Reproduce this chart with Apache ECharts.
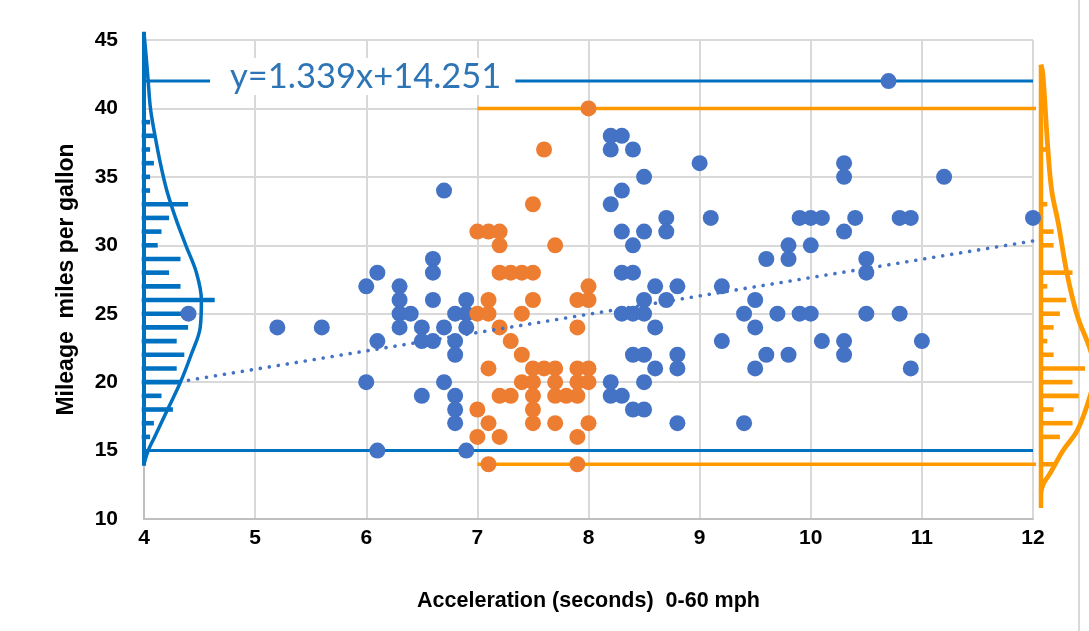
<!DOCTYPE html>
<html><head><meta charset="utf-8">
<script src="https://cdn.jsdelivr.net/npm/echarts@6/dist/echarts.min.js"></script>
<style>html,body{margin:0;padding:0;background:#fff}#c{width:1089px;height:631px}</style>
</head><body><div id="c"></div>
<script>
// ---- data ----
const bluePoints = [
 [4.4,25],[5.2,24],[5.6,24],[6.0,20],[6.0,27],[6.1,28],[6.1,23],[6.1,15],
 [6.3,27],[6.3,26],[6.3,25],[6.3,24],[6.4,25],[6.5,24],[6.5,23],[6.5,19],
 [6.6,29],[6.6,28],[6.6,26],[6.6,23],[6.7,34],[6.7,24],[6.7,20],
 [6.8,25],[6.8,23],[6.8,22],[6.8,19],[6.8,18],[6.8,17],
 [6.9,26],[6.9,25],[6.9,24],[6.9,15],
 [8.2,38],[8.3,38],[8.2,37],[8.4,37],[8.5,35],[8.3,34],[8.2,33],[8.7,32],[8.7,31],
 [8.3,31],[8.5,31],[8.4,30],[8.3,28],[8.4,28],[8.6,27],[8.8,27],[8.5,26],[8.7,26],
 [8.3,25],[8.4,25],[8.5,25],[8.6,24],[8.4,22],[8.5,22],[8.8,22],[8.6,21],[8.8,21],
 [8.2,20],[8.5,20],[8.2,19],[8.3,19],[8.4,18],[8.5,18],[8.8,17],
 [9.0,36],[9.1,32],[9.2,27],[9.2,23],[9.4,25],[9.4,17],[9.5,26],[9.5,24],[9.5,21],
 [9.6,29],[9.6,22],[9.7,25],[9.8,30],[9.8,29],[9.8,22],[9.9,32],[9.9,25],
 [10.0,32],[10.0,30],[10.0,25],[10.1,32],[10.1,23],[10.3,36],[10.3,35],[10.3,31],
 [10.3,23],[10.3,22],[10.4,32],[10.5,29],[10.5,28],[10.5,25],[10.7,42],[10.8,32],
 [10.8,25],[10.9,32],[10.9,21],[11.0,23],[11.2,35],[12.0,32]
];
const orangePoints = [
 [7.0,31],[7.1,31],[7.2,31],[7.2,30],[7.7,30],[7.2,28],[7.3,28],[7.4,28],[7.5,28],
 [7.5,33],[7.6,37],[8.0,40],[8.0,27],[7.1,26],[7.5,26],[7.9,26],[8.0,26],
 [7.0,25],[7.1,25],[7.4,25],[7.2,24],[7.9,24],[7.3,23],[7.4,22],
 [7.1,21],[7.5,21],[7.6,21],[7.7,21],[7.9,21],[8.0,21],
 [7.4,20],[7.5,20],[7.7,20],[7.9,20],[8.0,20],
 [7.2,19],[7.3,19],[7.5,19],[7.7,19],[7.8,19],[7.9,19],
 [7.0,18],[7.5,18],[7.1,17],[7.5,17],[7.7,17],[8.0,17],
 [7.0,16],[7.2,16],[7.9,16],[7.1,14],[7.9,14]
];
// trendline y=1.339x+14.251 end points (as read)
const trendPoints = [[4.4,20.14],[12.0,30.32]];
const equationText = 'y=1.339x+14.251';
// left (blue) histogram: mpg bin -> count
const blueHistY = [39,38,37,36,35,34,33,32,31,30,29,28,27,26,25,24,23,22,21,20,19,18,17,16];
const blueHistN = [ 1, 2, 1, 2, 1, 1,11, 6, 4, 3, 9, 6, 9,18,11,11, 8,10, 8, 9, 4, 7, 2, 1];
// right (orange) histogram
const orangeHistY = [37,33,31,30,28,27,26,25,24,23,22,21,20,19,18,17,16,14];
const orangeHistN = [ 1, 1, 2, 2, 5, 1, 4, 3, 2, 1, 2, 7, 5, 6, 2, 5, 3, 2];
// bell curves (count, mpg)
const blueCurveY = [45.5,44,42,40,38,36,34,32,30,28,26,24,22,20,18,16,15,14];
const blueCurveN = [0,0.5,1.1,1.7,2.9,4.3,6.0,8.3,11.0,13.8,15.1,14.8,12.4,9.6,6.2,2.8,1.1,0];
const orangeCurveY = [43.2,42.5,37,34,31.6,28,24.8,22.4,20.7,19,16.5,15,13.3,12.6,12.0];
const orangeCurveN = [0,0.3,1.1,1.7,2.75,4.1,5.8,7.8,8.6,7.8,5.8,3.5,1.4,0.4,0];
// histogram baselines extent (mpg)
const blueBase = [13.9,45.6];
const orangeBase = [10.8,43.2];
const xTicks = {min:4,max:12,step:1};
const yTicks = {min:10,max:45,step:5};

// ---- styles ----
const BLUE_DOT='#4472C4', ORANGE_DOT='#ED7D31', BLUE_LINE='#0070C0', ORANGE_LINE='#FF9900';
const FONT='"Liberation Sans", Arial, sans-serif';

const zip=(a,b)=>a.map((v,i)=>[b[i],v]);
const blueYs=bluePoints.map(p=>p[1]), orangeYs=orangePoints.map(p=>p[1]);
const orangeXs=orangePoints.map(p=>p[0]);
const blueMax=Math.max(...blueYs), blueMin=Math.min(...blueYs);
const orangeMax=Math.max(...orangeYs), orangeMin=Math.min(...orangeYs);
const orangeXmin=Math.min(...orangeXs);

function histSeries(xi, yi, ys, ns, color, cap){
  return {type:'custom', xAxisIndex:xi, yAxisIndex:yi, z:2, silent:true, clip:false,
    data: zip(ys, ns),
    renderItem:(params, api)=>{
      const a=api.coord([0, api.value(1)]), b=api.coord([api.value(0), api.value(1)]);
      return {type:'line', shape:{x1:a[0],y1:a[1],x2:b[0],y2:b[1]},
        style:{stroke:color, lineWidth:4.6, lineCap:cap}};
    }};
}
const hidAx = (g,min,max)=>({type:'value', gridIndex:g, min, max, show:false});

const chart=echarts.init(document.getElementById('c'),null,{renderer:'canvas'});
chart.setOption({
  animation:false,
  backgroundColor:'#fff',
  grid:[
    {left:144, top:40, right:56, bottom:112},
    {left:144, top:40, width:380, bottom:112},
    {left:1041, top:40, right:0, bottom:112}
  ],
  xAxis:[
    {type:'value', gridIndex:0, min:xTicks.min, max:xTicks.max, interval:xTicks.step,
     name:'Acceleration (seconds)  0-60 mph', nameLocation:'middle', nameGap:71,
     nameTextStyle:{fontFamily:FONT, fontWeight:'bold', fontSize:21.5, color:'#000'},
     axisLine:{show:true, lineStyle:{color:'#bfbfbf', width:2}}, axisTick:{show:false},
     axisLabel:{fontFamily:FONT, fontWeight:'bold', fontSize:21, color:'#000', margin:9},
     splitLine:{show:true, lineStyle:{color:'#d9d9d9', width:2}}},
    hidAx(1,0,100), hidAx(2,0,7.62)
  ],
  yAxis:[
    {type:'value', gridIndex:0, min:yTicks.min, max:yTicks.max, interval:yTicks.step,
     name:'Mileage  miles per gallon', nameLocation:'middle', nameGap:66,
     nameTextStyle:{fontFamily:FONT, fontWeight:'bold', fontSize:23, color:'#000'},
     axisLine:{show:true, lineStyle:{color:'#bfbfbf', width:2}}, axisTick:{show:false},
     axisLabel:{fontFamily:FONT, fontWeight:'bold', fontSize:21, color:'#000', margin:26},
     splitLine:{show:true, lineStyle:{color:'#d9d9d9', width:2}}},
    hidAx(1,yTicks.min,yTicks.max), hidAx(2,yTicks.min,yTicks.max)
  ],
  graphic:[
    {type:'line', shape:{x1:1079,y1:0,x2:1079,y2:631}, style:{stroke:'#d9d9d9', lineWidth:2}, z:0},
    {type:'text', left:210, top:58, z:20,
     style:{text:equationText, font:'34.5px Lato', fill:'#2E75B6',
            backgroundColor:'#fff', padding:[1,14,1,20]}}
  ],
  series:[
    histSeries(1,1,blueHistY,blueHistN,BLUE_LINE,'square'),
    histSeries(2,2,orangeHistY,orangeHistN,ORANGE_LINE,'butt'),
    {type:'line', xAxisIndex:1, yAxisIndex:1, z:3, clip:false, symbol:'none', silent:true,
     data:[[0,blueBase[0]],[0,blueBase[1]]], lineStyle:{color:BLUE_LINE, width:4}},
    {type:'line', xAxisIndex:2, yAxisIndex:2, z:3, clip:false, symbol:'none', silent:true,
     data:[[0,orangeBase[0]],[0,orangeBase[1]]], lineStyle:{color:ORANGE_LINE, width:4.5}},
    {type:'line', xAxisIndex:1, yAxisIndex:1, z:4, clip:false, symbol:'none', smooth:0.35, silent:true,
     data:zip(blueCurveY,blueCurveN), lineStyle:{color:BLUE_LINE, width:3.5}},
    {type:'line', xAxisIndex:2, yAxisIndex:2, z:4, clip:false, symbol:'none', smooth:0.35, silent:true,
     data:zip(orangeCurveY,orangeCurveN), lineStyle:{color:ORANGE_LINE, width:4.8}},
    // max/min lines
    {type:'line', z:5, clip:false, symbol:'none', silent:true,
     data:[[xTicks.min,blueMax],[xTicks.max,blueMax]], lineStyle:{color:BLUE_LINE, width:3}},
    {type:'line', z:5, clip:false, symbol:'none', silent:true,
     data:[[xTicks.min,blueMin],[xTicks.max,blueMin]], lineStyle:{color:BLUE_LINE, width:3}},
    {type:'line', z:5, clip:false, symbol:'none', silent:true,
     data:[[orangeXmin,orangeMax],[12.07,orangeMax]], lineStyle:{color:ORANGE_LINE, width:3.5}},
    {type:'line', z:5, clip:false, symbol:'none', silent:true,
     data:[[orangeXmin,orangeMin],[12.07,orangeMin]], lineStyle:{color:ORANGE_LINE, width:3.5}},
    {type:'scatter', z:6, symbolSize:16, data:bluePoints, itemStyle:{color:BLUE_DOT, opacity:1}},
    {type:'scatter', z:7, symbolSize:16, data:orangePoints, itemStyle:{color:ORANGE_DOT, opacity:1}},
    {type:'line', z:8, symbol:'none', silent:true, data:trendPoints,
     lineStyle:{color:BLUE_DOT, width:3.6, type:[0.1,9], cap:'round'}}
  ]
});
</script></body></html>
